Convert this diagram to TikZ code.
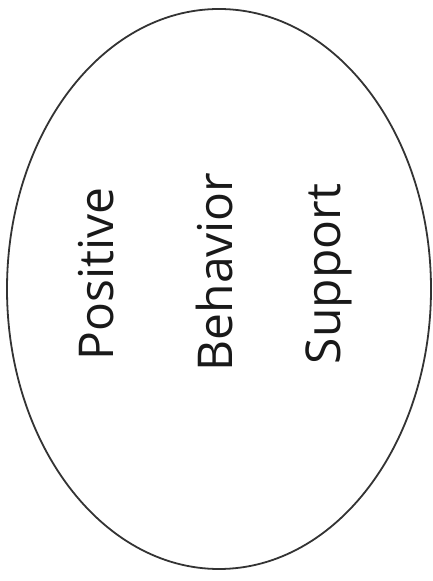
\documentclass[tikz,border=0pt]{standalone}
\usepackage{fontspec}
\setmainfont{Open Sans}
\usetikzlibrary{shapes.geometric}
\begin{document}
\begin{tikzpicture}[x=1pt,y=1pt,
  word/.style={rotate=90,anchor=base,inner sep=0pt,font=\fontsize{48}{52}\selectfont,text=black!90}]
\useasboundingbox (0,0) rectangle (433,581);
\node[ellipse,draw=black!80,line width=1.8pt,minimum width=424pt,minimum height=560pt,inner sep=0pt] (oval) at (219,292) {};
\node[word] (pos) at (113,307) {Positive};
\node[word] (beh) at (232,309) {Behavior};
\node[word] (sup) at (340,307) {Support};
\end{tikzpicture}
\end{document}
